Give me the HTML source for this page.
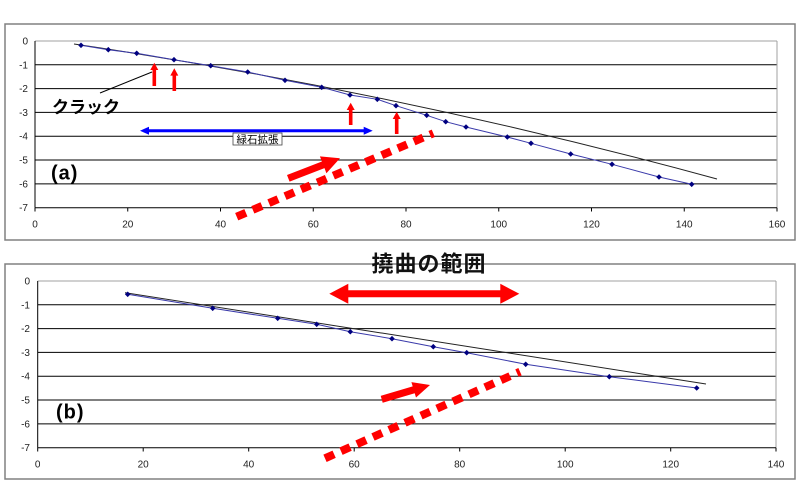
<!DOCTYPE html>
<html><head><meta charset="utf-8"><style>
html,body{margin:0;padding:0;background:#fff;}
svg{display:block;}
text{font-family:"Liberation Sans","Noto Sans CJK JP",sans-serif;}
</style></head><body>
<svg width="800" height="500" viewBox="0 0 800 500" xmlns="http://www.w3.org/2000/svg">
<rect x="0" y="0" width="800" height="500" fill="#fff"/>

<!-- ========== TOP CHART (a) ========== -->
<rect x="5" y="24" width="790" height="216" fill="#fff" stroke="#808080" stroke-width="1.5"/>
<g stroke="#000" stroke-width="1">
<line x1="35" y1="64.8" x2="777" y2="64.8"/>
<line x1="35" y1="88.6" x2="777" y2="88.6"/>
<line x1="35" y1="112.4" x2="777" y2="112.4"/>
<line x1="35" y1="136.2" x2="777" y2="136.2"/>
<line x1="35" y1="160" x2="777" y2="160"/>
<line x1="35" y1="183.9" x2="777" y2="183.9"/>
</g>
<line x1="35" y1="41" x2="777" y2="41" stroke="#a0a0a0" stroke-width="1"/>
<line x1="777" y1="41" x2="777" y2="207.7" stroke="#a0a0a0" stroke-width="1"/>
<line x1="35" y1="207.7" x2="777" y2="207.7" stroke="#000" stroke-width="1"/>
<line x1="35" y1="41" x2="35" y2="207.7" stroke="#000" stroke-width="1"/>
<g stroke="#000" stroke-width="1">
<line x1="35" y1="207.7" x2="35" y2="211.5"/>
<line x1="127.75" y1="207.7" x2="127.75" y2="211.5"/>
<line x1="220.5" y1="207.7" x2="220.5" y2="211.5"/>
<line x1="313.25" y1="207.7" x2="313.25" y2="211.5"/>
<line x1="406" y1="207.7" x2="406" y2="211.5"/>
<line x1="498.75" y1="207.7" x2="498.75" y2="211.5"/>
<line x1="591.5" y1="207.7" x2="591.5" y2="211.5"/>
<line x1="684.25" y1="207.7" x2="684.25" y2="211.5"/>
<line x1="777" y1="207.7" x2="777" y2="211.5"/>
</g>
<g font-size="10" fill="#222" text-anchor="end">
<text x="28" y="44.5">0</text>
<text x="28" y="68.3">-1</text>
<text x="28" y="92.1">-2</text>
<text x="28" y="115.9">-3</text>
<text x="28" y="139.7">-4</text>
<text x="28" y="163.5">-5</text>
<text x="28" y="187.4">-6</text>
<text x="28" y="211.2">-7</text>
</g>
<g font-size="10" fill="#222" text-anchor="middle">
<text x="35" y="227.5">0</text>
<text x="127.75" y="227.5">20</text>
<text x="220.5" y="227.5">40</text>
<text x="313.25" y="227.5">60</text>
<text x="406" y="227.5">80</text>
<text x="498.75" y="227.5">100</text>
<text x="591.5" y="227.5">120</text>
<text x="684.25" y="227.5">140</text>
<text x="777" y="227.5">160</text>
</g>

<!-- black fit curve -->
<path d="M74,44 Q395.5,91.3 717,179" fill="none" stroke="#222" stroke-width="1"/>
<!-- blue series -->
<polyline fill="none" stroke="#3a3aaa" stroke-width="1" points="81,45.3 108.3,49.7 136.7,53.3 174,59.7 210.7,65.7 247.7,72 285,80.3 321.7,87.3 350,95 377.3,99.3 396,105.7 426.7,115.3 445.7,121.7 466,127 507.3,137 531,143.3 570.7,154 612,164.3 659,177 691.7,184.3"/>
<g fill="#000080">
<path d="M81,42.5l2.8,2.8l-2.8,2.8l-2.8,-2.8z"/>
<path d="M108.3,46.9l2.8,2.8l-2.8,2.8l-2.8,-2.8z"/>
<path d="M136.7,50.5l2.8,2.8l-2.8,2.8l-2.8,-2.8z"/>
<path d="M174,56.9l2.8,2.8l-2.8,2.8l-2.8,-2.8z"/>
<path d="M210.7,62.9l2.8,2.8l-2.8,2.8l-2.8,-2.8z"/>
<path d="M247.7,69.2l2.8,2.8l-2.8,2.8l-2.8,-2.8z"/>
<path d="M285,77.5l2.8,2.8l-2.8,2.8l-2.8,-2.8z"/>
<path d="M321.7,84.5l2.8,2.8l-2.8,2.8l-2.8,-2.8z"/>
<path d="M350,92.2l2.8,2.8l-2.8,2.8l-2.8,-2.8z"/>
<path d="M377.3,96.5l2.8,2.8l-2.8,2.8l-2.8,-2.8z"/>
<path d="M396,102.9l2.8,2.8l-2.8,2.8l-2.8,-2.8z"/>
<path d="M426.7,112.5l2.8,2.8l-2.8,2.8l-2.8,-2.8z"/>
<path d="M445.7,118.9l2.8,2.8l-2.8,2.8l-2.8,-2.8z"/>
<path d="M466,124.2l2.8,2.8l-2.8,2.8l-2.8,-2.8z"/>
<path d="M507.3,134.2l2.8,2.8l-2.8,2.8l-2.8,-2.8z"/>
<path d="M531,140.5l2.8,2.8l-2.8,2.8l-2.8,-2.8z"/>
<path d="M570.7,151.2l2.8,2.8l-2.8,2.8l-2.8,-2.8z"/>
<path d="M612,161.5l2.8,2.8l-2.8,2.8l-2.8,-2.8z"/>
<path d="M659,174.2l2.8,2.8l-2.8,2.8l-2.8,-2.8z"/>
<path d="M691.7,181.5l2.8,2.8l-2.8,2.8l-2.8,-2.8z"/>
</g>

<!-- small red up arrows -->
<g fill="#ff0000">
<path d="M154.3,62.7 L158.3,70 L156.1,70 L156.1,86 L152.5,86 L152.5,70 L150.3,70 Z"/>
<path d="M174.3,68.3 L178.3,75.6 L176.1,75.6 L176.1,91 L172.5,91 L172.5,75.6 L170.3,75.6 Z"/>
<path d="M350.7,102.7 L354.7,110 L352.5,110 L352.5,125 L348.9,125 L348.9,110 L346.7,110 Z"/>
<path d="M396.7,111.7 L400.7,119 L398.5,119 L398.5,134 L394.9,134 L394.9,119 L392.7,119 Z"/>
</g>

<!-- crack label -->
<line x1="100" y1="93" x2="152" y2="72" stroke="#000" stroke-width="1"/>
<text x="52" y="113" font-size="17" font-weight="bold" fill="#000">クラック</text>

<!-- blue double arrow -->
<path d="M140,130.7 L149,126.7 L149,129.2 L363.7,129.2 L363.7,126.7 L372.7,130.7 L363.7,134.7 L363.7,132.2 L149,132.2 L149,134.7 Z" fill="#0000ff"/>
<rect x="233" y="133" width="49" height="12" fill="#fff" stroke="#444" stroke-width="0.8"/>
<text x="257.5" y="143" font-size="10.5" fill="#000" text-anchor="middle">緑石拡張</text>

<text x="51" y="179.5" font-size="20" font-weight="bold" fill="#000" letter-spacing="1">(a)</text>

<!-- red arrow + dashed -->
<polygon fill="#ff0000" points="287.0,175.0 321.9,161.5 319.9,156.4 340,158.3 326.4,173.2 324.5,168.1 289.6,181.6"/>
<line x1="236.7" y1="216.7" x2="433.3" y2="133.3" stroke="#ff0000" stroke-width="8" stroke-dasharray="10 7.5"/>

<!-- ========== BOTTOM CHART (b) ========== -->
<rect x="5" y="264" width="790" height="215" fill="#fff" stroke="#808080" stroke-width="1.5"/>
<g stroke="#000" stroke-width="1">
<line x1="37.7" y1="304.8" x2="776" y2="304.8"/>
<line x1="37.7" y1="328.6" x2="776" y2="328.6"/>
<line x1="37.7" y1="352.4" x2="776" y2="352.4"/>
<line x1="37.7" y1="376.2" x2="776" y2="376.2"/>
<line x1="37.7" y1="400" x2="776" y2="400"/>
<line x1="37.7" y1="423.9" x2="776" y2="423.9"/>
</g>
<line x1="37.7" y1="281" x2="776" y2="281" stroke="#a0a0a0" stroke-width="1"/>
<line x1="776" y1="281" x2="776" y2="447.7" stroke="#a0a0a0" stroke-width="1"/>
<line x1="37.7" y1="447.7" x2="776" y2="447.7" stroke="#000" stroke-width="1"/>
<line x1="37.7" y1="281" x2="37.7" y2="447.7" stroke="#000" stroke-width="1"/>
<g stroke="#000" stroke-width="1">
<line x1="37.7" y1="447.7" x2="37.7" y2="451.5"/>
<line x1="143.2" y1="447.7" x2="143.2" y2="451.5"/>
<line x1="248.7" y1="447.7" x2="248.7" y2="451.5"/>
<line x1="354.2" y1="447.7" x2="354.2" y2="451.5"/>
<line x1="459.7" y1="447.7" x2="459.7" y2="451.5"/>
<line x1="565.2" y1="447.7" x2="565.2" y2="451.5"/>
<line x1="670.7" y1="447.7" x2="670.7" y2="451.5"/>
<line x1="776" y1="447.7" x2="776" y2="451.5"/>
</g>
<g font-size="10" fill="#222" text-anchor="end">
<text x="30" y="284.5">0</text>
<text x="30" y="308.3">-1</text>
<text x="30" y="332.1">-2</text>
<text x="30" y="355.9">-3</text>
<text x="30" y="379.7">-4</text>
<text x="30" y="403.5">-5</text>
<text x="30" y="427.4">-6</text>
<text x="30" y="451.2">-7</text>
</g>
<g font-size="10" fill="#222" text-anchor="middle">
<text x="37.7" y="467.5">0</text>
<text x="143.2" y="467.5">20</text>
<text x="248.7" y="467.5">40</text>
<text x="354.2" y="467.5">60</text>
<text x="459.7" y="467.5">80</text>
<text x="565.2" y="467.5">100</text>
<text x="670.7" y="467.5">120</text>
<text x="776" y="467.5">140</text>
</g>

<line x1="125" y1="292.7" x2="706" y2="384" stroke="#222" stroke-width="1"/>
<polyline fill="none" stroke="#3a3aaa" stroke-width="1" points="127.7,294.3 212.7,308.3 277.7,318.3 316.7,324.3 350.3,331.7 392,338.7 433.3,346.7 466.7,352.7 525.7,364.3 609.3,376.7 696.7,388"/>
<g fill="#000080">
<path d="M127.7,291.5l2.8,2.8l-2.8,2.8l-2.8,-2.8z"/>
<path d="M212.7,305.5l2.8,2.8l-2.8,2.8l-2.8,-2.8z"/>
<path d="M277.7,315.5l2.8,2.8l-2.8,2.8l-2.8,-2.8z"/>
<path d="M316.7,321.5l2.8,2.8l-2.8,2.8l-2.8,-2.8z"/>
<path d="M350.3,328.9l2.8,2.8l-2.8,2.8l-2.8,-2.8z"/>
<path d="M392,335.9l2.8,2.8l-2.8,2.8l-2.8,-2.8z"/>
<path d="M433.3,343.9l2.8,2.8l-2.8,2.8l-2.8,-2.8z"/>
<path d="M466.7,349.9l2.8,2.8l-2.8,2.8l-2.8,-2.8z"/>
<path d="M525.7,361.5l2.8,2.8l-2.8,2.8l-2.8,-2.8z"/>
<path d="M609.3,373.9l2.8,2.8l-2.8,2.8l-2.8,-2.8z"/>
<path d="M696.7,385.2l2.8,2.8l-2.8,2.8l-2.8,-2.8z"/>
</g>

<text x="371.5" y="271.5" font-size="22" font-weight="bold" fill="#111" letter-spacing="1">撓曲の範囲</text>

<!-- red double arrow -->
<path d="M329.3,293.8 L348.3,283.8 L348.3,290.3 L500.3,290.3 L500.3,283.8 L519.3,293.8 L500.3,303.8 L500.3,297.3 L348.3,297.3 L348.3,303.8 Z" fill="#ff0000"/>

<text x="56" y="418.5" font-size="20" font-weight="bold" fill="#000" letter-spacing="1">(b)</text>

<polygon fill="#ff0000" points="380.7,395.9 412.7,386.4 411.4,382.1 430,385 416,397.5 414.7,393.2 382.7,402.7"/>
<line x1="325" y1="458.3" x2="520" y2="371.7" stroke="#ff0000" stroke-width="8" stroke-dasharray="10 7.5"/>
</svg>
</body></html>
